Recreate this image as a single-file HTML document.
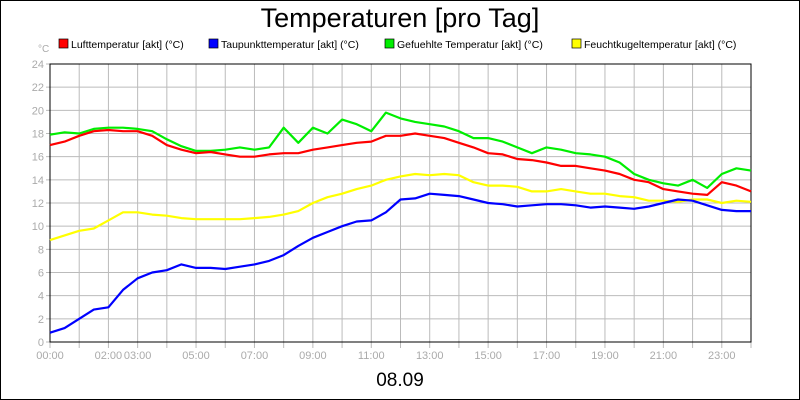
<!DOCTYPE html>
<html><head><meta charset="utf-8"><style>
html,body{margin:0;padding:0;background:#fff}
svg{display:block;font-family:"Liberation Sans",sans-serif}
</style></head><body>
<svg id="chart" width="800" height="400">
<rect x="0.5" y="0.5" width="799" height="399" fill="#fff" stroke="#000"/>
<text x="400" y="27" text-anchor="middle" font-size="27" fill="#000">Temperaturen [pro Tag]</text>
<text x="38" y="52" font-size="10" fill="#aaa">°C</text>
<g id="legend"></g>
<g id="grid"></g>
<g id="series"></g>
<text x="400" y="386" text-anchor="middle" font-size="19" fill="#000">08.09</text>
</svg>
<script>
const yTicks=[0,2,4,6,8,10,12,14,16,18,20,22,24];
const xTickLabels=["00:00","02:00","03:00","05:00","07:00","09:00","11:00","13:00","15:00","17:00","19:00","21:00","23:00"];
const xTickHours=[0,2,3,5,7,9,11,13,15,17,19,21,23];
const seriesNames=["Lufttemperatur [akt] (°C)","Taupunkttemperatur [akt] (°C)","Gefuehlte Temperatur [akt] (°C)","Feuchtkugeltemperatur [akt] (°C)"];
const seriesColors=["#ff0000","#0000ff","#00ee00","#ffff00"];
const hours=[0,.5,1,1.5,2,2.5,3,3.5,4,4.5,5,5.5,6,6.5,7,7.5,8,8.5,9,9.5,10,10.5,11,11.5,12,12.5,13,13.5,14,14.5,15,15.5,16,16.5,17,17.5,18,18.5,19,19.5,20,20.5,21,21.5,22,22.5,23,23.5,24];
const luft=[17.0,17.3,17.8,18.2,18.3,18.2,18.2,17.8,17.0,16.6,16.3,16.4,16.2,16.0,16.0,16.2,16.3,16.3,16.6,16.8,17.0,17.2,17.3,17.8,17.8,18.0,17.8,17.6,17.2,16.8,16.3,16.2,15.8,15.7,15.5,15.2,15.2,15.0,14.8,14.5,14.0,13.8,13.2,13.0,12.8,12.7,13.8,13.5,13.0];
const taupunkt=[0.8,1.2,2.0,2.8,3.0,4.5,5.5,6.0,6.2,6.7,6.4,6.4,6.3,6.5,6.7,7.0,7.5,8.3,9.0,9.5,10.0,10.4,10.5,11.2,12.3,12.4,12.8,12.7,12.6,12.3,12.0,11.9,11.7,11.8,11.9,11.9,11.8,11.6,11.7,11.6,11.5,11.7,12.0,12.3,12.2,11.8,11.4,11.3,11.3];
const gefuehlt=[17.9,18.1,18.0,18.4,18.5,18.5,18.4,18.2,17.5,16.9,16.5,16.5,16.6,16.8,16.6,16.8,18.5,17.2,18.5,18.0,19.2,18.8,18.2,19.8,19.3,19.0,18.8,18.6,18.2,17.6,17.6,17.3,16.8,16.3,16.8,16.6,16.3,16.2,16.0,15.5,14.5,14.0,13.7,13.5,14.0,13.3,14.5,15.0,14.8];
const feucht=[8.8,9.2,9.6,9.8,10.5,11.2,11.2,11.0,10.9,10.7,10.6,10.6,10.6,10.6,10.7,10.8,11.0,11.3,12.0,12.5,12.8,13.2,13.5,14.0,14.3,14.5,14.4,14.5,14.4,13.8,13.5,13.5,13.4,13.0,13.0,13.2,13.0,12.8,12.8,12.6,12.5,12.2,12.2,12.1,12.3,12.3,12.0,12.2,12.1];
const drawOrder=[[feucht,3],[gefuehlt,2],[luft,0],[taupunkt,1]];
const NS="http://www.w3.org/2000/svg";
const L=50,R=751,T=64,B=342;
const xs=h=>L+(R-L)*h/24;
const ys=v=>B-(B-T)*v/24;
const grid=document.getElementById('grid');
for(let h=0;h<=24;h++){
  const ln=document.createElementNS(NS,'line');
  ln.setAttribute('x1',xs(h));ln.setAttribute('x2',xs(h));ln.setAttribute('y1',T);ln.setAttribute('y2',B+6);
  ln.setAttribute('stroke','#bbb');
  
  
  grid.appendChild(ln);
}
yTicks.forEach(v=>{
  const ln=document.createElementNS(NS,'line');
  ln.setAttribute('x1',L-4);ln.setAttribute('x2',R);ln.setAttribute('y1',ys(v));ln.setAttribute('y2',ys(v));
  ln.setAttribute('stroke','#bbb');
  
  
  grid.appendChild(ln);
  const t=document.createElementNS(NS,'text');
  t.setAttribute('x',L-6);t.setAttribute('y',ys(v)+4);t.setAttribute('text-anchor','end');
  t.setAttribute('font-size','11');t.setAttribute('fill','#aaa');
  t.textContent=v;
  
  
  grid.appendChild(t);
});
xTickLabels.forEach((s,i)=>{
  const t=document.createElementNS(NS,'text');
  t.setAttribute('x',xs(xTickHours[i]));t.setAttribute('y',B+17);t.setAttribute('text-anchor','middle');
  t.setAttribute('font-size','11');t.setAttribute('fill','#aaa');
  t.textContent=s;
  
  
  grid.appendChild(t);
});
const frame=document.createElementNS(NS,'path');
frame.setAttribute('d',`M${L},${T}H${R}V${B}H${L}Z`);
frame.setAttribute('fill','none');frame.setAttribute('stroke','#000');


grid.appendChild(frame);
const sg=document.getElementById('series');
drawOrder.forEach(([arr,ci])=>{
  const p=document.createElementNS(NS,'polyline');
  p.setAttribute('points',arr.map((v,i)=>xs(hours[i]).toFixed(1)+','+ys(v).toFixed(1)).join(' '));
  p.setAttribute('fill','none');p.setAttribute('stroke',seriesColors[ci]);p.setAttribute('stroke-width','2.2');
  p.setAttribute('stroke-linejoin','round');
  
  
  sg.appendChild(p);
});
const lg=document.getElementById('legend');
const legX=[59,209,385,572];
seriesNames.forEach((n,i)=>{
  const r=document.createElementNS(NS,'rect');
  r.setAttribute('x',legX[i]);r.setAttribute('y',39);r.setAttribute('width',9);r.setAttribute('height',9);
  r.setAttribute('fill',seriesColors[i]);r.setAttribute('stroke','#000');r.setAttribute('stroke-width','0.7');
  
  
  lg.appendChild(r);
  const t=document.createElementNS(NS,'text');
  t.setAttribute('x',legX[i]+12);t.setAttribute('y',48);t.setAttribute('font-size','10.5');t.setAttribute('fill','#000');
  t.textContent=n;
  
  
  lg.appendChild(t);
});
</script>
</body></html>
